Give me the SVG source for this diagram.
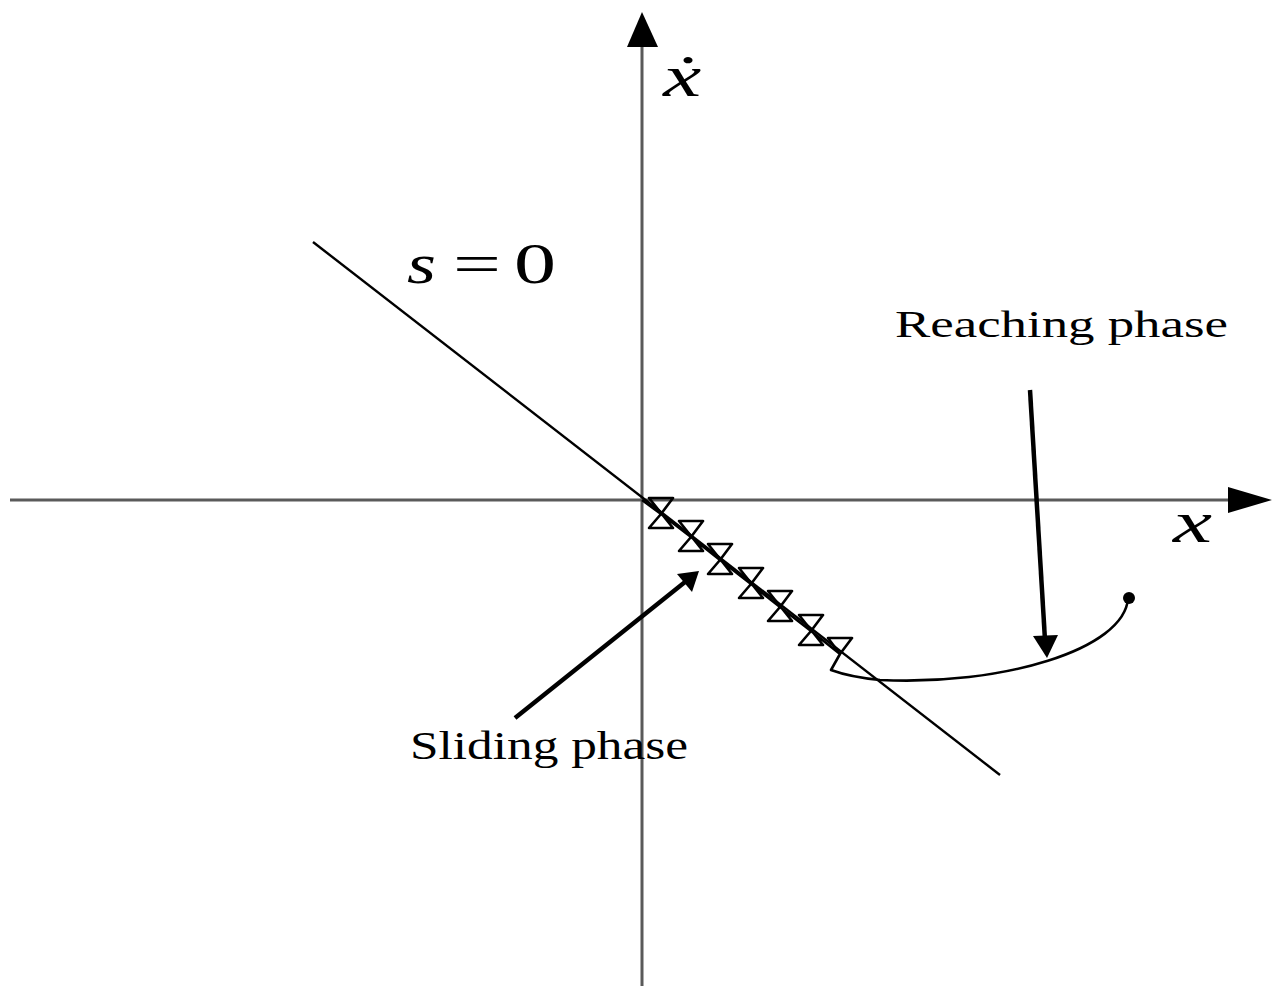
<svg xmlns="http://www.w3.org/2000/svg" width="1277" height="986" viewBox="0 0 1277 986">
<style>
.axis{stroke:#5a5a5a;stroke-width:3;fill:none}
.line{stroke:#000;stroke-width:2.4;fill:none}
.traj{stroke:#000;stroke-width:2.6;fill:none;stroke-linejoin:round}
.arrow{stroke:#000;stroke-width:4.5;fill:none}
.lbl{font-family:"Liberation Serif","Times New Roman",serif;fill:#000}
.it{font-style:italic}
</style>
<rect width="1277" height="986" fill="#fff"/>
<g id="connectors">
  <g id="x-axis">
    <line class="axis" x1="10" y1="500" x2="1235" y2="500"/>
    <polygon points="1272,500 1228,487 1228,513" fill="#000"/>
  </g>
  <g id="xdot-axis">
    <line class="axis" x1="642" y1="986" x2="642" y2="40"/>
    <polygon points="642,12 627,47 658,47" fill="#000"/>
  </g>
  <line id="surface" class="line" x1="313" y1="242" x2="1000" y2="775"/>
  <path id="trajectory" class="traj" d="M642,500 L661,514 L673,498 L649,498 L673,528 L649,528 L661,514 L691,537 L703,521 L679,521 L703,551 L679,551 L691,537 L720,560 L732,544 L708,544 L732,574 L708,574 L720,560 L751,584 L763,568 L739,568 L763,598 L739,598 L751,584 L780,607 L792,591 L768,591 L792,621 L768,621 L780,607 L811,631 L823,615 L799,615 L823,645 L799,645 L811,631 L840,654 L852,638 L828,638 L840,654 L831,670 Q850,677 880,680 C1000,686 1125,650 1128,598"/>
  <circle cx="1129" cy="598" r="6" fill="#000"/>
  <g id="reaching-arrow">
    <line class="arrow" x1="1030" y1="390" x2="1045" y2="640"/>
    <polygon points="1047,658 1033,636 1058,635" fill="#000"/>
  </g>
  <g id="sliding-arrow">
    <line class="arrow" x1="515" y1="718" x2="685" y2="582"/>
    <polygon points="699,571 677,574 692,592" fill="#000"/>
  </g>
</g>
<g id="label-xdot"><text class="lbl it" x="663" y="96" font-size="60" textLength="38" lengthAdjust="spacingAndGlyphs">ẋ</text></g>
<g id="label-x"><text class="lbl it" x="1173" y="542" font-size="60" textLength="39" lengthAdjust="spacingAndGlyphs">x</text></g>
<g id="label-s0">
  <text class="lbl it" x="407" y="283" font-size="58" textLength="29" lengthAdjust="spacingAndGlyphs">s</text>
  <text class="lbl" x="453" y="283" font-size="58" textLength="48" lengthAdjust="spacingAndGlyphs">=</text>
  <text class="lbl" x="514" y="283" font-size="58" textLength="42" lengthAdjust="spacingAndGlyphs">0</text>
</g>
<g id="label-reaching"><text class="lbl" x="895" y="337" font-size="38" textLength="333" lengthAdjust="spacingAndGlyphs">Reaching phase</text></g>
<g id="label-sliding"><text class="lbl" x="410" y="759" font-size="40" textLength="278" lengthAdjust="spacingAndGlyphs">Sliding phase</text></g>
</svg>
